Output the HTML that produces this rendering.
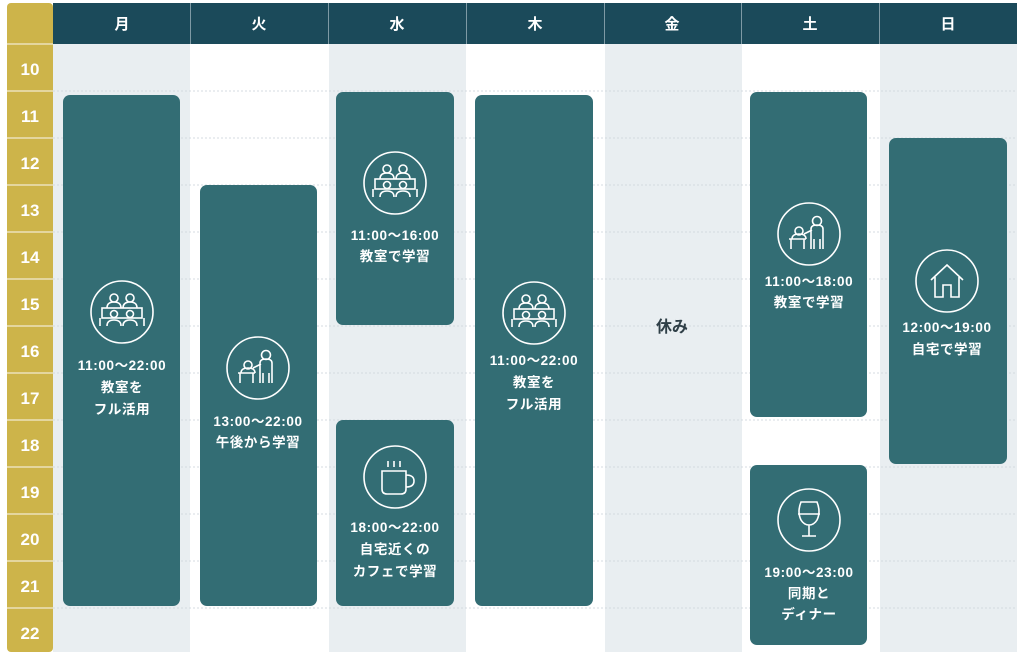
<!DOCTYPE html>
<html><head><meta charset="utf-8"><style>
html,body{margin:0;padding:0;background:#fff;width:1024px;height:655px;overflow:hidden}
svg{display:block}
text{font-family:"Liberation Sans","Noto Sans CJK JP",sans-serif;font-weight:bold}
</style></head><body>
<svg width="1024" height="655" viewBox="0 0 1024 655" xmlns="http://www.w3.org/2000/svg">
<defs>
<g id="cls" fill="none" stroke="#fff" stroke-width="1.6">
<circle r="31"/>
<circle cx="-8" cy="-14" r="4"/><circle cx="8" cy="-14" r="4"/>
<path d="M-15 -4 q0-6 7-6 q7 0 7 6 M1 -4 q0-6 7-6 q7 0 7 6"/>
<rect x="-20" y="-4" width="40" height="10"/>
<circle cx="-8" cy="2" r="3.5"/><circle cx="8" cy="2" r="3.5"/>
<path d="M-15 14 q0-6 7-6 q7 0 7 6 M1 14 q0-6 7-6 q7 0 7 6 M-22 6 v8 M22 6 v8"/>
</g>
<g id="tch" fill="none" stroke="#fff" stroke-width="1.6">
<circle r="31"/>
<circle cx="-10" cy="-3" r="4"/><path d="M-17 5 q0-5 7-5 q7 0 7 5"/>
<path d="M-20 5 h17 M-18 5 v10 M-5 5 v10"/>
<circle cx="8" cy="-13" r="4.5"/>
<path d="M2 15 v-20 q0-4 6-4 q6 0 6 4 v20 M5 15 v-10 M11 15 v-10 M3 -4 l-8 4"/>
</g>
<g id="house" fill="none" stroke="#fff" stroke-width="1.6">
<circle r="31"/>
<path d="M-16 -1 L0 -16 L16 -1 M-12 -4 V16 H-4 V4 H4 V16 H12 V-4"/>
</g>
<g id="cup" fill="none" stroke="#fff" stroke-width="1.6">
<circle r="31"/>
<path d="M-7 -16 v6 M-1 -16 v6 M5 -16 v6"/>
<path d="M-13 -6 H11 V12 q0 5 -5 5 H-8 q-5 0 -5 -5 Z M11 -2 q8 0 8 6 q0 6 -8 6"/>
</g>
<g id="wine" fill="none" stroke="#fff" stroke-width="1.6">
<circle r="31"/>
<path d="M-8 -18 H8 q4 10 0 18 q-3 5 -8 5 q-5 0 -8 -5 q-4 -8 0 -18 Z M-11 -6 H11 M0 5 V16 M-7 16 H7"/>
</g>
</defs>
<rect x="53" y="44" width="137" height="608" fill="#e9eef1"/>
<rect x="329" y="44" width="137" height="608" fill="#e9eef1"/>
<rect x="605" y="44" width="137" height="608" fill="#e9eef1"/>
<rect x="880" y="44" width="137" height="608" fill="#e9eef1"/>
<g stroke="#d4dbe0" stroke-width="1" stroke-dasharray="2 2">
<line x1="53" x2="1017" y1="91" y2="91"/><line x1="53" x2="1017" y1="138" y2="138"/>
<line x1="53" x2="1017" y1="185" y2="185"/><line x1="53" x2="1017" y1="232" y2="232"/>
<line x1="53" x2="1017" y1="279" y2="279"/><line x1="53" x2="1017" y1="326" y2="326"/>
<line x1="53" x2="1017" y1="373" y2="373"/><line x1="53" x2="1017" y1="420" y2="420"/>
<line x1="53" x2="1017" y1="467" y2="467"/><line x1="53" x2="1017" y1="514" y2="514"/>
<line x1="53" x2="1017" y1="561" y2="561"/><line x1="53" x2="1017" y1="608" y2="608"/>
</g>
<rect x="7" y="3" width="46" height="649" rx="4" fill="#cdb44a"/>
<g stroke="#f3ead0" stroke-width="1.2">
<line x1="7" x2="53" y1="44" y2="44"/><line x1="7" x2="53" y1="91" y2="91"/><line x1="7" x2="53" y1="138" y2="138"/>
<line x1="7" x2="53" y1="185" y2="185"/><line x1="7" x2="53" y1="232" y2="232"/><line x1="7" x2="53" y1="279" y2="279"/>
<line x1="7" x2="53" y1="326" y2="326"/><line x1="7" x2="53" y1="373" y2="373"/><line x1="7" x2="53" y1="420" y2="420"/>
<line x1="7" x2="53" y1="467" y2="467"/><line x1="7" x2="53" y1="514" y2="514"/><line x1="7" x2="53" y1="561" y2="561"/>
<line x1="7" x2="53" y1="608" y2="608"/>
</g>
<g fill="#fff" font-size="17" text-anchor="middle">
<text x="30" y="75">10</text><text x="30" y="122">11</text><text x="30" y="169">12</text>
<text x="30" y="216">13</text><text x="30" y="263">14</text><text x="30" y="310">15</text>
<text x="30" y="357">16</text><text x="30" y="404">17</text><text x="30" y="451">18</text>
<text x="30" y="498">19</text><text x="30" y="545">20</text><text x="30" y="592">21</text>
<text x="30" y="639">22</text>
</g>
<rect x="53" y="3" width="964" height="41" fill="#1b4a5a"/>
<g stroke="#7e9aa5" stroke-width="1">
<line x1="190.5" x2="190.5" y1="3" y2="44"/><line x1="328.5" x2="328.5" y1="3" y2="44"/>
<line x1="466.5" x2="466.5" y1="3" y2="44"/><line x1="604.5" x2="604.5" y1="3" y2="44"/>
<line x1="741.5" x2="741.5" y1="3" y2="44"/><line x1="879.5" x2="879.5" y1="3" y2="44"/>
</g>
<g fill="#fff" font-size="15" text-anchor="middle">
<text x="122" y="29">月</text><text x="259" y="29">火</text><text x="397" y="29">水</text>
<text x="535" y="29">木</text><text x="672" y="29">金</text><text x="810" y="29">土</text><text x="948" y="29">日</text>
</g>
<g fill="#336d74">
<rect x="63" y="95" width="117" height="511" rx="7"/>
<rect x="200" y="185" width="117" height="421" rx="7"/>
<rect x="336" y="92" width="118" height="233" rx="7"/>
<rect x="336" y="420" width="118" height="186" rx="7"/>
<rect x="475" y="95" width="118" height="511" rx="7"/>
<rect x="750" y="92" width="117" height="325" rx="7"/>
<rect x="750" y="465" width="117" height="180" rx="7"/>
<rect x="889" y="138" width="118" height="326" rx="7"/>
</g>
<use href="#cls" x="122" y="312"/>
<use href="#tch" x="258" y="368"/>
<use href="#cls" x="395" y="183"/>
<use href="#cup" x="395" y="477"/>
<use href="#cls" x="534" y="313"/>
<use href="#tch" x="809" y="234"/>
<use href="#wine" x="809" y="520"/>
<use href="#house" x="947" y="281"/>
<g fill="#fff" font-size="13.5" text-anchor="middle" letter-spacing="0.6">
<text x="122" y="370">11:00～22:00</text><text x="122" y="392">教室を</text><text x="122" y="414">フル活用</text>
<text x="258" y="426">13:00～22:00</text><text x="258" y="447">午後から学習</text>
<text x="395" y="240">11:00～16:00</text><text x="395" y="261">教室で学習</text>
<text x="395" y="532">18:00～22:00</text><text x="395" y="554">自宅近くの</text><text x="395" y="576">カフェで学習</text>
<text x="534" y="365">11:00～22:00</text><text x="534" y="387">教室を</text><text x="534" y="409">フル活用</text>
<text x="809" y="286">11:00～18:00</text><text x="809" y="307">教室で学習</text>
<text x="809" y="577">19:00～23:00</text><text x="809" y="598">同期と</text><text x="809" y="619">ディナー</text>
<text x="947" y="332">12:00～19:00</text><text x="947" y="354">自宅で学習</text>
</g>
<text x="672" y="332" fill="#2f3f47" font-size="16" text-anchor="middle">休み</text>
</svg>
</body></html>
